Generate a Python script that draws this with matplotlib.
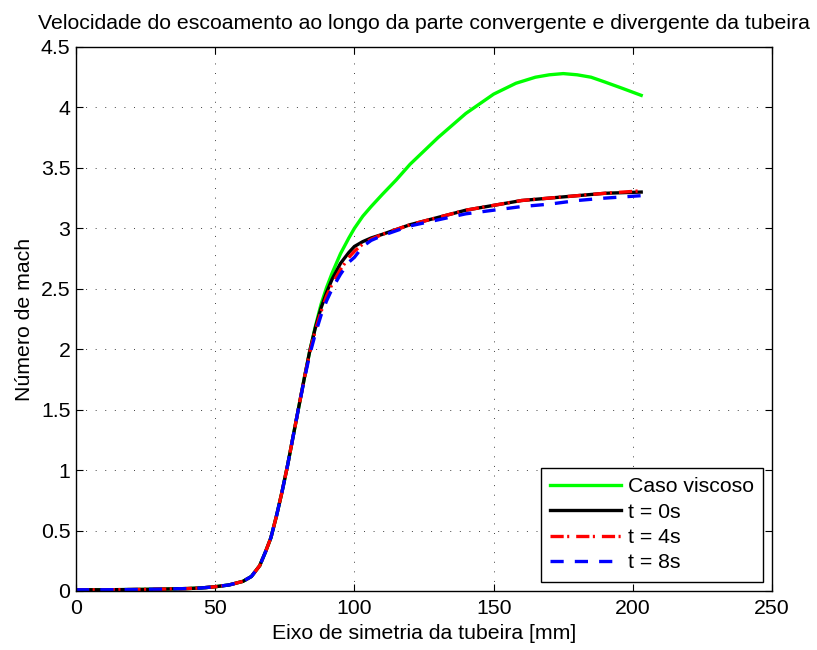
import matplotlib
matplotlib.use('Agg')
import matplotlib.pyplot as plt

plt.rcParams['font.family'] = ['Liberation Sans', 'DejaVu Sans']
plt.rcParams['lines.scale_dashes'] = False

# posição ao longo do eixo da tubeira [mm]
x = [0, 10, 20, 30, 40, 45, 50, 55, 60, 63, 66, 68, 70, 72, 74, 76, 78, 80,
     82, 84, 86, 88, 90, 92, 95, 98, 100, 103, 106, 110, 115, 120, 130, 140,
     150, 160, 170, 180, 190, 203]
x_visc = [0, 10, 20, 30, 40, 45, 50, 55, 60, 63, 66, 68, 70, 72, 74, 76, 78,
          80, 82, 84, 86, 88, 90, 92, 95, 98, 100, 103, 106, 110, 115, 120,
          130, 140, 150, 158, 165, 170, 175, 180, 185, 190, 196, 203]

# número de Mach para cada caso
viscoso = [0.01, 0.01, 0.012, 0.015, 0.02, 0.025, 0.035, 0.05, 0.08, 0.12,
           0.21, 0.32, 0.44, 0.62, 0.82, 1.04, 1.28, 1.52, 1.76, 1.99, 2.19,
           2.37, 2.51, 2.63, 2.79, 2.92, 3.00, 3.10, 3.18, 3.28, 3.40, 3.53,
           3.75, 3.95, 4.11, 4.20, 4.25, 4.27, 4.28, 4.27, 4.25, 4.21, 4.16,
           4.10]
t0 = [0.01, 0.01, 0.012, 0.015, 0.02, 0.025, 0.035, 0.05, 0.08, 0.12, 0.21,
      0.32, 0.44, 0.62, 0.82, 1.04, 1.28, 1.52, 1.76, 1.99, 2.18, 2.34, 2.47,
      2.58, 2.71, 2.80, 2.85, 2.89, 2.92, 2.95, 2.99, 3.03, 3.09, 3.15, 3.19,
      3.23, 3.25, 3.27, 3.29, 3.30]
t4 = [0.01, 0.01, 0.012, 0.015, 0.02, 0.025, 0.035, 0.05, 0.08, 0.12, 0.21,
      0.32, 0.44, 0.62, 0.82, 1.04, 1.28, 1.52, 1.76, 1.98, 2.16, 2.31, 2.44,
      2.54, 2.66, 2.76, 2.81, 2.87, 2.91, 2.95, 2.99, 3.03, 3.09, 3.15, 3.19,
      3.23, 3.25, 3.27, 3.29, 3.31]
t8 = [0.01, 0.01, 0.012, 0.015, 0.02, 0.025, 0.035, 0.05, 0.08, 0.12, 0.21,
      0.32, 0.44, 0.62, 0.82, 1.04, 1.28, 1.52, 1.75, 1.96, 2.13, 2.28, 2.40,
      2.50, 2.62, 2.72, 2.76, 2.85, 2.90, 2.94, 2.98, 3.02, 3.07, 3.12, 3.15,
      3.18, 3.20, 3.23, 3.25, 3.27]

xticks = [0, 50, 100, 150, 200, 250]
yticks = [0, 0.5, 1, 1.5, 2, 2.5, 3, 3.5, 4, 4.5]
ylabels = ['0', '0.5', '1', '1.5', '2', '2.5', '3', '3.5', '4', '4.5']

fs = 15.3

fig = plt.figure(figsize=(8.17, 6.5), dpi=100)
ax = fig.add_axes([0.093, 0.0908, 0.852, 0.8369])

lw = 2.4
ax.plot(x_visc, viscoso, color='#00ff00', lw=lw, label='Caso viscoso')
ax.plot(x, t0, color='black', lw=lw, label='t = 0s')
ax.plot(x, t4, color='red', lw=lw, dashes=(9.5, 2.5, 1.5, 5), label='t = 4s')
ax.plot(x, t8, color='blue', lw=lw, dashes=(9.5, 8), label='t = 8s')

ax.set_xlim(0, 250)
ax.set_ylim(0, 4.5)
ax.set_xticks(xticks)
ax.set_xticklabels([str(v) for v in xticks])
ax.set_yticks(yticks)
ax.set_yticklabels(ylabels)
ax.tick_params(direction='in', top=True, right=True, length=5, width=0.8,
               labelsize=fs)
ax.tick_params(axis='x', pad=6)
ax.tick_params(axis='y', pad=4)
ax.grid(True, color='0.25', linestyle=(0, (0.7, 6.2)), linewidth=0.7)
for s in ax.spines.values():
    s.set_linewidth(1.0)

ax.set_title('Velocidade do escoamento ao longo da parte convergente e divergente da tubeira',
             fontsize=fs, pad=13)
ax.set_xlabel('Eixo de simetria da tubeira [mm]', fontsize=fs, labelpad=4)
ax.set_ylabel('Número de mach', fontsize=fs, labelpad=5)

leg = ax.legend(loc='lower right', fontsize=fs, handlelength=3.3,
                frameon=True, fancybox=False, framealpha=1, edgecolor='black',
                borderaxespad=0.42, labelspacing=0.3, handletextpad=0.33,
                borderpad=0.45)
leg.get_frame().set_linewidth(1.0)

fig.savefig('out.png', dpi=100, facecolor='white')
